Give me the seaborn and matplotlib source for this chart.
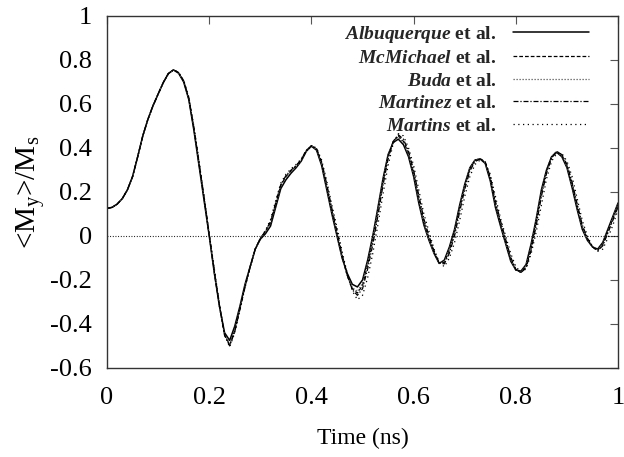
import numpy as np
import pandas as pd
import matplotlib
matplotlib.use("Agg")
import matplotlib.pyplot as plt
import seaborn as sns

sns.set_theme(style="white")
plt.rcParams['font.family'] = ['Liberation Serif', 'DejaVu Serif']
plt.rcParams['mathtext.fontset'] = 'custom'
plt.rcParams['mathtext.rm'] = 'Liberation Serif'
plt.rcParams['mathtext.it'] = 'Liberation Serif:italic'
plt.rcParams['mathtext.bf'] = 'Liberation Serif:bold'
plt.rcParams['mathtext.bfit'] = 'Liberation Serif:italic:bold'
plt.rcParams['axes.unicode_minus'] = False

time_ns = [round(0.01 * i, 2) for i in range(101)]

albuquerque = [
    0.125, 0.130, 0.145, 0.170, 0.210, 0.270, 0.360, 0.455, 0.530, 0.592,
    0.645, 0.697, 0.738, 0.755, 0.740, 0.700, 0.620, 0.480, 0.320, 0.160,
    0.000, -0.170, -0.320, -0.440, -0.475, -0.410, -0.320, -0.220, -0.140, -0.060,
    -0.015, 0.010, 0.045, 0.130, 0.215, 0.255, 0.285, 0.310, 0.340, 0.385,
    0.408, 0.390, 0.320, 0.210, 0.100, 0.000, -0.100, -0.170, -0.220, -0.232,
    -0.200, -0.110, 0.000, 0.128, 0.260, 0.370, 0.425, 0.440, 0.415, 0.360,
    0.270, 0.150, 0.050, -0.020, -0.080, -0.125, -0.110, -0.050, 0.030, 0.140,
    0.235, 0.310, 0.345, 0.350, 0.330, 0.250, 0.130, 0.045, -0.035, -0.115,
    -0.155, -0.160, -0.130, -0.035, 0.080, 0.210, 0.300, 0.360, 0.380, 0.360,
    0.310, 0.220, 0.120, 0.030, -0.020, -0.050, -0.060, -0.030, 0.030, 0.090,
    0.150]

mcmichael = [
    0.125, 0.130, 0.145, 0.170, 0.210, 0.270, 0.360, 0.455, 0.530, 0.592,
    0.645, 0.697, 0.738, 0.755, 0.742, 0.703, 0.625, 0.488, 0.330, 0.170,
    0.005, -0.165, -0.320, -0.450, -0.495, -0.430, -0.330, -0.230, -0.140, -0.060,
    -0.012, 0.020, 0.060, 0.145, 0.230, 0.270, 0.295, 0.318, 0.345, 0.388,
    0.410, 0.395, 0.330, 0.225, 0.115, 0.010, -0.095, -0.180, -0.240, -0.260,
    -0.225, -0.130, -0.020, 0.110, 0.245, 0.360, 0.430, 0.455, 0.430, 0.375,
    0.285, 0.170, 0.065, -0.010, -0.075, -0.125, -0.120, -0.065, 0.015, 0.125,
    0.225, 0.305, 0.343, 0.352, 0.335, 0.260, 0.145, 0.060, -0.025, -0.105,
    -0.155, -0.165, -0.140, -0.055, 0.065, 0.195, 0.295, 0.360, 0.385, 0.368,
    0.320, 0.235, 0.135, 0.040, -0.015, -0.050, -0.065, -0.040, 0.020, 0.080,
    0.140]

buda = [
    0.125, 0.130, 0.145, 0.170, 0.210, 0.270, 0.360, 0.455, 0.530, 0.592,
    0.645, 0.697, 0.738, 0.755, 0.741, 0.702, 0.623, 0.485, 0.327, 0.166,
    0.003, -0.168, -0.322, -0.448, -0.490, -0.425, -0.328, -0.226, -0.140, -0.060,
    -0.013, 0.018, 0.058, 0.140, 0.225, 0.266, 0.292, 0.315, 0.343, 0.387,
    0.410, 0.393, 0.326, 0.218, 0.108, 0.005, -0.100, -0.180, -0.235, -0.252,
    -0.215, -0.120, -0.010, 0.120, 0.252, 0.365, 0.428, 0.450, 0.425, 0.370,
    0.278, 0.160, 0.058, -0.015, -0.078, -0.125, -0.115, -0.058, 0.022, 0.132,
    0.230, 0.308, 0.344, 0.351, 0.332, 0.255, 0.138, 0.055, -0.030, -0.110,
    -0.155, -0.163, -0.135, -0.048, 0.072, 0.200, 0.298, 0.362, 0.383, 0.364,
    0.315, 0.228, 0.128, 0.035, -0.018, -0.050, -0.063, -0.035, 0.025, 0.085,
    0.145]

martinez = [
    0.125, 0.130, 0.145, 0.170, 0.210, 0.270, 0.360, 0.455, 0.530, 0.592,
    0.645, 0.697, 0.738, 0.755, 0.743, 0.705, 0.628, 0.492, 0.335, 0.174,
    0.006, -0.160, -0.315, -0.452, -0.500, -0.435, -0.335, -0.232, -0.143, -0.060,
    -0.011, 0.022, 0.066, 0.150, 0.233, 0.274, 0.299, 0.320, 0.347, 0.389,
    0.410, 0.397, 0.336, 0.235, 0.125, 0.020, -0.085, -0.178, -0.245, -0.270,
    -0.240, -0.150, -0.040, 0.090, 0.230, 0.350, 0.430, 0.460, 0.440, 0.385,
    0.298, 0.185, 0.078, 0.000, -0.068, -0.123, -0.127, -0.078, 0.000, 0.110,
    0.212, 0.295, 0.338, 0.350, 0.337, 0.268, 0.158, 0.068, -0.015, -0.097,
    -0.152, -0.167, -0.145, -0.065, 0.050, 0.180, 0.285, 0.355, 0.383, 0.370,
    0.325, 0.245, 0.145, 0.050, -0.010, -0.050, -0.067, -0.045, 0.013, 0.072,
    0.133]

martins = [
    0.125, 0.130, 0.145, 0.170, 0.210, 0.270, 0.360, 0.455, 0.530, 0.592,
    0.645, 0.697, 0.738, 0.755, 0.744, 0.708, 0.632, 0.498, 0.340, 0.178,
    0.010, -0.150, -0.310, -0.450, -0.505, -0.440, -0.340, -0.235, -0.145, -0.060,
    -0.010, 0.025, 0.075, 0.160, 0.240, 0.280, 0.305, 0.325, 0.350, 0.390,
    0.410, 0.400, 0.345, 0.250, 0.140, 0.040, -0.070, -0.170, -0.250, -0.290,
    -0.270, -0.190, -0.080, 0.050, 0.190, 0.320, 0.420, 0.465, 0.455, 0.400,
    0.320, 0.210, 0.100, 0.020, -0.060, -0.120, -0.140, -0.100, -0.030, 0.070,
    0.180, 0.270, 0.325, 0.345, 0.335, 0.280, 0.180, 0.080, 0.000, -0.080,
    -0.140, -0.165, -0.150, -0.080, 0.020, 0.140, 0.260, 0.340, 0.375, 0.375,
    0.340, 0.270, 0.170, 0.070, 0.000, -0.050, -0.070, -0.060, -0.010, 0.050,
    0.120]

authors = ["Albuquerque", "McMichael", "Buda", "Martinez", "Martins"]
series = [albuquerque, mcmichael, buda, martinez, martins]
styles = [
    dict(color="black", linestyle="-", lw=1.1),
    dict(color="black", linestyle=(0, (3.0, 1.6)), lw=0.9),
    dict(color="#555555", linestyle=(0, (1.0, 1.4)), lw=0.9),
    dict(color="black", linestyle=(0, (4.0, 1.5, 1.0, 1.5)), lw=0.9),
    dict(color="black", linestyle=(0, (1.0, 2.8)), lw=0.9),
]

fig = plt.figure(figsize=(6.24, 4.57), dpi=100)
ax = fig.add_axes([0.1715, 0.195, 0.819, 0.770])

# zero reference line
ax.axhline(0, color="black", linestyle=(0, (0.8, 1.6)), lw=0.8, zorder=1)

for name, vals, st in zip(authors, series, styles):
    df = pd.DataFrame({"t": time_ns, "m": vals})
    label = r"$\mathbfit{" + name + r"}$ et al."
    sns.lineplot(data=df, x="t", y="m", ax=ax, label=label, **st)

ax.set_xlim(0, 1)
ax.set_ylim(-0.6, 1)
xt = [0, 0.2, 0.4, 0.6, 0.8, 1]
yt = [-0.6, -0.4, -0.2, 0, 0.2, 0.4, 0.6, 0.8, 1]
ax.set_xticks(xt)
ax.set_xticklabels(["0", "0.2", "0.4", "0.6", "0.8", "1"])
ax.set_yticks(yt)
ax.set_yticklabels(["-0.6", "-0.4", "-0.2", "0", "0.2", "0.4", "0.6", "0.8", "1"])
ax.tick_params(direction="in", length=6, width=0.8, color="#555555",
               labelsize=19, top=True, right=True, pad=11, labelcolor="black")
ax.tick_params(axis="x", pad=14)
for sp in ax.spines.values():
    sp.set_color("#333333")
    sp.set_linewidth(1.0)

ax.set_xlabel("Time (ns)", fontsize=17, labelpad=13, color="black")
ax.set_ylabel(r"<M$_\mathrm{y}$>/M$_\mathrm{s}$", fontsize=21, labelpad=2, color="black")

leg = ax.legend(loc="upper right", bbox_to_anchor=(0.958, 1.0), frameon=False,
                markerfirst=False, prop=dict(family="Liberation Serif", weight="bold", size=14),
                handlelength=3.9, handletextpad=0.85, labelspacing=0.25, borderaxespad=0)

fig.savefig("out.png", dpi=100)
